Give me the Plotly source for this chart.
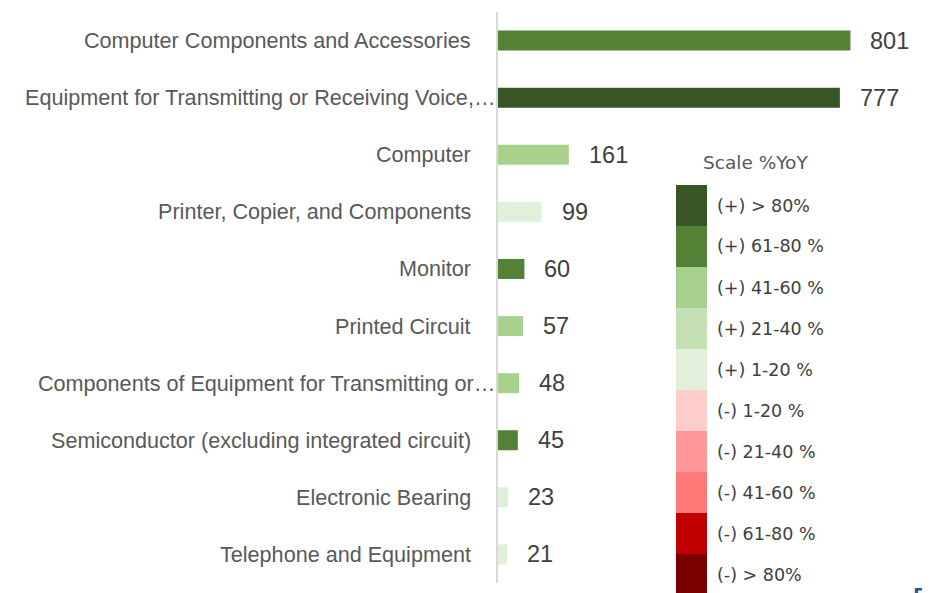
import plotly.graph_objects as go

categories = [
    "Computer Components and Accessories",
    "Equipment for Transmitting or Receiving Voice,…",
    "Computer",
    "Printer, Copier, and Components",
    "Monitor",
    "Printed Circuit",
    "Components of Equipment for Transmitting or…",
    "Semiconductor (excluding integrated circuit)",
    "Electronic Bearing",
    "Telephone and Equipment",
]
values = [801, 777, 161, 99, 60, 57, 48, 45, 23, 21]
yoy_class = ["(+) 61-80 %", "(+) > 80%", "(+) 41-60 %", "(+) 1-20 %", "(+) 61-80 %",
             "(+) 41-60 %", "(+) 41-60 %", "(+) 61-80 %", "(+) 1-20 %", "(+) 1-20 %"]

legend_labels = ["(+) > 80%", "(+) 61-80 %", "(+) 41-60 %", "(+) 21-40 %", "(+) 1-20 %",
                 "(-) 1-20 %", "(-) 21-40 %", "(-) 41-60 %", "(-) 61-80 %", "(-) > 80%"]
legend_colors = ["#375623", "#538135", "#A9D18E", "#C5E0B4", "#E2EFDA",
                 "#FFCCCC", "#FF9999", "#FF7979", "#C00000", "#7B0000"]
color_of = dict(zip(legend_labels, legend_colors))
bar_colors = [color_of[c] for c in yoy_class]

# page has an 8px body margin; figure is sized to fill the rest of the window
OFF = 8
W, H = 930 - OFF, 593 - OFF
L, R, T, B = 498 - OFF, 36, 12 - OFF, 10
PW, PH = W - L - R, H - T - B

def px_x(sx):
    return (sx - OFF - L) / PW

def px_y(sy):
    return (H - B - (sy - OFF)) / PH

LABEL_FONT = "Liberation Sans, Arial, sans-serif"

fig = go.Figure(go.Bar(
    x=values, y=categories, orientation="h",
    marker=dict(color=bar_colors, line=dict(width=0)),
    width=0.35, hoverinfo="skip",
))

# category labels (truncated ones run up to the axis, as in the source)
for c in categories:
    right = 497 if c.endswith("…") else 473
    fig.add_annotation(xref="paper", yref="y", x=px_x(right), y=c, text=c,
                       showarrow=False, xanchor="right", yanchor="middle",
                       font=dict(family=LABEL_FONT, size=21.6, color="#595959"))

for v, c in zip(values, categories):
    fig.add_annotation(x=v, y=c, text=str(v), showarrow=False, xanchor="left",
                       xshift=18, font=dict(family=LABEL_FONT, size=23.5, color="#404040"))

# Legend (scale)
box_top, box_h = 185, 41
x0, x1 = 676, 707
for i, (lab, col) in enumerate(zip(legend_labels, legend_colors)):
    yt = box_top + i * box_h
    fig.add_shape(type="rect", xref="paper", yref="paper",
                  x0=px_x(x0), x1=px_x(x1), y0=px_y(yt + box_h), y1=px_y(yt),
                  fillcolor=col, line=dict(width=0), layer="above")
    fig.add_annotation(xref="paper", yref="paper", x=px_x(715), y=px_y(yt + box_h / 2),
                       text=lab, showarrow=False, xanchor="left", yanchor="middle",
                       font=dict(family="DejaVu Sans", size=17.5, color="#404040"))
fig.add_annotation(xref="paper", yref="paper", x=px_x(755), y=px_y(163),
                   text="Scale %YoY", showarrow=False, xanchor="center", yanchor="middle",
                   font=dict(family="DejaVu Sans", size=18.5, color="#595959"))

# clipped fragment at bottom right
fig.add_annotation(xref="paper", yref="paper", x=px_x(910), y=px_y(578),
                   text="E", showarrow=False, xanchor="left", yanchor="top",
                   font=dict(family="Liberation Sans", size=34, color="#2F5597"))

fig.update_layout(
    width=W, height=H,
    margin=dict(l=L, r=R, t=T, b=B, pad=0),
    paper_bgcolor="white", plot_bgcolor="white",
    showlegend=False,
    xaxis=dict(range=[0, 900], visible=False, fixedrange=True, automargin=False),
    yaxis=dict(autorange="reversed", showgrid=False, zeroline=False, automargin=False,
               showline=True, linecolor="#D9D9D9", linewidth=2,
               ticks="", showticklabels=False),
)

fig.write_html("out.html")
